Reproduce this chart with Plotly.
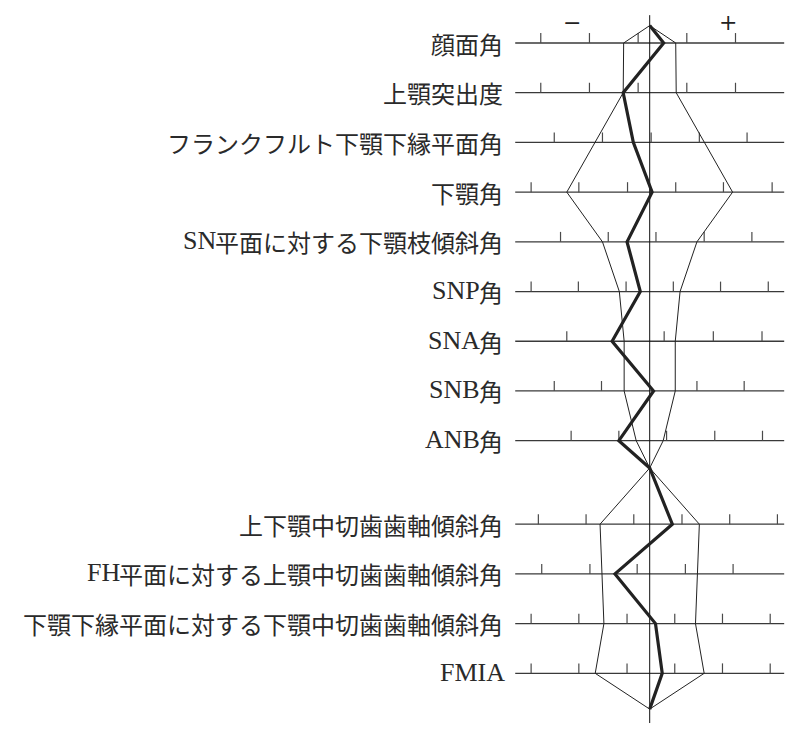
import re
import plotly.graph_objects as go

# ---- data (values in standard-deviation-like scale units, 0 = norm) ----
labels = [
    "顔面角",
    "上顎突出度",
    "フランクフルト下顎下縁平面角",
    "下顎角",
    "SN平面に対する下顎枝傾斜角",
    "SNP角",
    "SNA角",
    "SNB角",
    "ANB角",
    "上下顎中切歯歯軸傾斜角",
    "FH平面に対する上顎中切歯歯軸傾斜角",
    "下顎下縁平面に対する下顎中切歯歯軸傾斜角",
    "FMIA",
]
n_skeletal = 9  # first 9 rows are skeletal, remaining are dental

patient = [0.29, -0.55, -0.34, 0.05, -0.47, -0.195, -0.78, 0.08, -0.64,
           0.47, -0.72, 0.12, 0.26]
norm_range = [0.54, 0.55, 1.13, 1.72, 0.98, 0.63, 0.53, 0.53, 0.28,
              1.03, 0.99, 0.95, 1.13]

ticks = [
    [-2.26, -1.25, -0.24, 0.77, 1.78],
    [-2.26, -1.25, -0.24, 0.77, 1.78],
    [-1.98, -0.98, 0.03, 1.03, 2.02],
    [-2.46, -1.47, -0.46, 0.54, 1.53, 2.54],
    [-1.85, -0.86, 0.13, 1.13, 2.12],
    [-2.46, -1.48, -0.49, 0.49, 1.47, 2.46],
    [-1.72, 0.30, 1.32, 2.33],
    [-1.98, -1.00, 0.98, 1.96],
    [-1.63, -0.64, 0.35, 1.35, 2.34],
    [-2.31, -1.32, -0.33, 0.67, 1.66, 2.65],
    [-2.24, -1.24, -0.26, 0.74, 1.73],
    [-2.46, -1.47, -0.47, 0.52, 1.51, 2.50],
    [-2.46, -1.47, -0.47, 0.52, 1.51, 2.50],
]

sign_labels = ["−", "+"]

# ---- layout geometry (row positions in row units) ----
GROUP_GAP = 0.68
rows_y = [i if i < n_skeletal else i + GROUP_GAP for i in range(len(labels))]
top_apex = -0.35
mid_apex = 8.55
bot_apex = 13.4
LINE_HALF = 2.79
TICK_H = 0.2
Y_TOP = -0.704
CJK_SIZE = 24
LATIN_SIZE = 26

fig = go.Figure()

# horizontal scale lines
hx, hy = [], []
for y in rows_y:
    hx += [-LINE_HALF, LINE_HALF, None]
    hy += [y, y, None]
fig.add_trace(go.Scatter(x=hx, y=hy, mode="lines",
                         line=dict(color="#3a3a3a", width=1.3), hoverinfo="skip"))

# ticks
tx, ty = [], []
for y, tl in zip(rows_y, ticks):
    for t in tl:
        tx += [t, t, None]
        ty += [y, y - TICK_H, None]
fig.add_trace(go.Scatter(x=tx, y=ty, mode="lines",
                         line=dict(color="#4a4a4a", width=1.2), hoverinfo="skip"))

# central vertical line
fig.add_trace(go.Scatter(x=[0, 0], y=[-0.56, 13.68], mode="lines",
                         line=dict(color="#111111", width=1), hoverinfo="skip"))

# norm envelope
sk_y = rows_y[:n_skeletal]
de_y = rows_y[n_skeletal:]
sk_w = norm_range[:n_skeletal]
de_w = norm_range[n_skeletal:]
for sgn in (-1, 1):
    ex = [0] + [sgn * w for w in sk_w] + [0] + [sgn * w for w in de_w] + [0]
    ey = [top_apex] + sk_y + [mid_apex] + de_y + [bot_apex]
    fig.add_trace(go.Scatter(x=ex, y=ey, mode="lines",
                             line=dict(color="#222222", width=1), hoverinfo="skip"))

# patient polygon
px = [0] + patient[:n_skeletal] + [0] + patient[n_skeletal:] + [0]
py = [top_apex] + sk_y + [mid_apex] + de_y + [bot_apex]
fig.add_trace(go.Scatter(x=px, y=py, mode="lines",
                         line=dict(color="#222222", width=3.2), hoverinfo="skip"))

annotations = []
for lab, y in zip(labels, rows_y):
    m = re.match(r"^([A-Za-z]*)(.*)$", lab)
    latin, cjk = m.group(1), m.group(2)
    if cjk:
        annotations.append(dict(x=-3.0, y=y, text=cjk, showarrow=False,
                                xanchor="right", yanchor="middle",
                                font=dict(family="Noto Sans CJK JP",
                                          size=CJK_SIZE, color="#2a2a2a")))
    if latin:
        annotations.append(dict(x=-3.0, y=y, text=latin, showarrow=False,
                                xanchor="right", yanchor="middle",
                                xshift=-CJK_SIZE * len(cjk) + (1 if cjk else 2),
                                yshift=1,
                                font=dict(family="Liberation Serif",
                                          size=LATIN_SIZE, color="#2a2a2a")))
for txt, xpos in zip(sign_labels, [-1.61, 1.62]):
    annotations.append(dict(x=xpos, y=Y_TOP, text=txt, showarrow=False,
                            xanchor="center", yanchor="top",
                            font=dict(family="DejaVu Serif", size=22, color="#222222")))

# page body has an 8px margin: figure is placed at (8, 8) in the window
fig.update_layout(
    width=781, height=721,
    margin=dict(l=0, r=0, t=0, b=0),
    paper_bgcolor="white", plot_bgcolor="white",
    showlegend=False,
    xaxis=dict(range=[-13.313, 2.890], visible=False, fixedrange=True),
    yaxis=dict(range=[13.80, Y_TOP], visible=False, fixedrange=True),
    annotations=annotations,
    hovermode=False,
)

fig.write_html("out.html")
